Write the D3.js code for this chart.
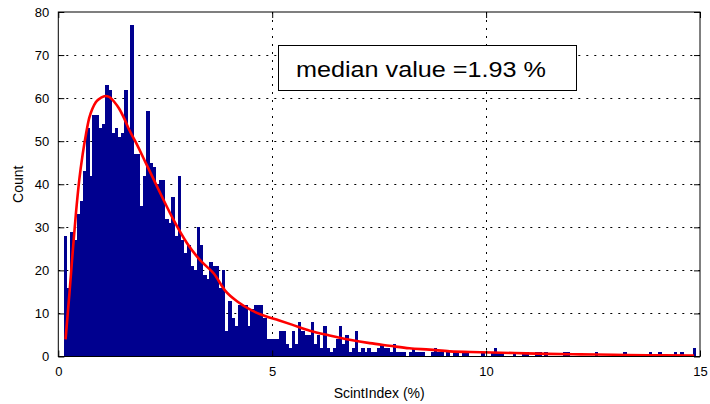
<!DOCTYPE html>
<html>
<head>
<meta charset="utf-8">
<script src="https://cdn.jsdelivr.net/npm/d3@7/dist/d3.min.js"></script>
<style>
  html, body { margin: 0; padding: 0; background: #ffffff; }
  svg { display: block; font-family: "Liberation Sans", Arial, Helvetica, sans-serif; }
</style>
</head>
<body>
<svg id="chart" width="710" height="404"></svg>
<script>
// ---------- data ----------
const histRange = [0.133, 14.91];   // data min / max covered by the 200 bins
const counts = [
  28,16,29,27,33,36,43,53,42,56, 56,53,54,63,62,52,53,51,52,62,
  53,77,47,47,35,42,57,45,44,40, 41,41,32,31,37,28,42,27,24,26,
  21,20,30,26,19,18,22,21,21,16, 20,6,13,9,7,12,12,12,7,11,
  12,12,12,9,4,4,4,4,6,6, 3,2,6,3,8,6,5,5,8,3,
  5,2,7,2,1,2,4,7,3,5, 1,2,6,1,2,1,2,1,1,2,
  3,2,2,1,3,1,1,1,0,1, 2,1,1,1,0,0,1,2,1,1,
  0,1,0,1,1,0,1,1,0,0, 0,0,1,0,0,1,2,1,1,0,
  0,0,1,0,0,1,1,0,0,1, 1,0,1,0,0,0,0,0,1,1,
  0,0,0,0,0,0,0,0,1,0, 0,0,0,0,0,0,0,1,0,0,
  0,0,0,0,0,1,0,0,1,0, 0,0,0,1,0,1,0,0,0,2
];
const fitX = [0.17,0.26,0.34,0.41,0.49,0.57,0.65,0.72,0.80,0.88,1.00,1.10,1.19,1.31,1.42,1.54,1.66,1.81,2.08,2.39,2.70,3.01,3.32,3.64,3.90,4.21,4.52,4.83,5.15,5.46,5.88,6.34,6.81,7.28,7.74,8.21,8.68,9.15,9.87,10.66,11.43,12.2,12.99,13.77,14.86];
const fitY = [4.0,14.6,24.7,33.0,41.0,47.0,51.8,55.3,57.6,59.1,60.1,60.5,60.3,59.1,57.6,55.3,52.6,49.8,44.2,37.8,31.6,26.3,22.3,19.2,15.3,12.6,10.7,9.4,8.4,7.4,6.0,4.9,3.9,3.1,2.5,1.9,1.6,1.2,1.0,0.8,0.6,0.5,0.4,0.3,0.2];
const xTicks = [0, 5, 10, 15];
const yTicks = [0, 10, 20, 30, 40, 50, 60, 70, 80];
const xLabel = "ScintIndex (%)";
const yLabel = "Count";
const noteText = "median value =1.93 %";

// ---------- layout ----------
const L = 58.3, R = 700, T = 12, B = 356.5;
const svg = d3.select("#chart");
const x = d3.scaleLinear().domain([0, 15]).range([L, R]);
const y = d3.scaleLinear().domain([0, 80]).range([B, T]);

const nb = counts.length;
const bw = (histRange[1] - histRange[0]) / nb;
const bins = counts.map((c, i) => ({ x0: histRange[0] + i * bw, x1: histRange[0] + (i + 1) * bw, c }));

// grid
const grid = svg.append("g").attr("stroke", "#000").attr("stroke-width", 1).attr("stroke-dasharray", "2,6");
grid.selectAll("line.gy").data(yTicks.filter(v => v > 0 && v < 80)).join("line")
  .attr("x1", L).attr("x2", R).attr("y1", d => Math.round(y(d)) + 0.5).attr("y2", d => Math.round(y(d)) + 0.5);
grid.selectAll("line.gx").data(xTicks.filter(v => v > 0 && v < 15)).join("line")
  .attr("y1", T).attr("y2", B).attr("x1", d => Math.round(x(d)) + 0.5).attr("x2", d => Math.round(x(d)) + 0.5);

// bars
svg.append("g").attr("fill", "#00008f").attr("shape-rendering", "crispEdges")
  .selectAll("rect").data(bins.filter(b => b.c > 0)).join("rect")
  .attr("x", d => x(d.x0)).attr("width", d => x(d.x1) - x(d.x0) + 0.3)
  .attr("y", d => y(d.c)).attr("height", d => y(0) - y(d.c));

// fit curve
const line = d3.line().x((d, i) => x(fitX[i])).y(d => y(d)).curve(d3.curveMonotoneX);
svg.append("path").datum(fitY).attr("d", line)
  .attr("fill", "none").attr("stroke", "#ff0000").attr("stroke-width", 2.6)
  .attr("stroke-linejoin", "round");

// axes frame + ticks (inward, MATLAB style)
const bottomAxis = d3.axisBottom(x).tickValues(xTicks).tickSize(-6).tickPadding(10);
const leftAxis = d3.axisLeft(y).tickValues(yTicks).tickSize(-6).tickPadding(9);
const topAxis = d3.axisTop(x).tickValues(xTicks).tickSize(-6).tickFormat("");
const rightAxis = d3.axisRight(y).tickValues(yTicks).tickSize(-6).tickFormat("");

function styleAxis(g) {
  g.select(".domain").remove();
  g.selectAll(".tick line").attr("stroke", "#000");
  g.selectAll(".tick text").attr("fill", "#000").attr("font-size", "13px")
    .attr("font-family", "'Liberation Sans', Arial, sans-serif");
}
svg.append("g").attr("transform", `translate(0,${B})`).call(bottomAxis).call(styleAxis);
svg.append("g").attr("transform", `translate(${L},0)`).call(leftAxis).call(styleAxis);
svg.append("g").attr("transform", `translate(0,${T})`).call(topAxis).call(styleAxis);
svg.append("g").attr("transform", `translate(${R},0)`).call(rightAxis).call(styleAxis);

svg.append("rect").attr("x", L).attr("y", T).attr("width", R - L).attr("height", B - T)
  .attr("fill", "none").attr("stroke", "#000").attr("stroke-width", 1);

// axis labels
svg.append("text").attr("x", (L + R) / 2).attr("y", 398).attr("text-anchor", "middle")
  .attr("font-size", "14px").attr("fill", "#000").text(xLabel);
svg.append("text").attr("transform", `translate(23,${(T + B) / 2}) rotate(-90)`).attr("text-anchor", "middle")
  .attr("font-size", "14px").attr("fill", "#000").text(yLabel);

// annotation box
svg.append("rect").attr("x", 278.5).attr("y", 45.5).attr("width", 298).attr("height", 45)
  .attr("fill", "#fff").attr("stroke", "#000").attr("stroke-width", 1);
svg.append("text").attr("x", 296).attr("y", 77).attr("font-size", "22px").attr("fill", "#000")
  .attr("textLength", 250).attr("lengthAdjust", "spacingAndGlyphs").text(noteText);
</script>
</body>
</html>
